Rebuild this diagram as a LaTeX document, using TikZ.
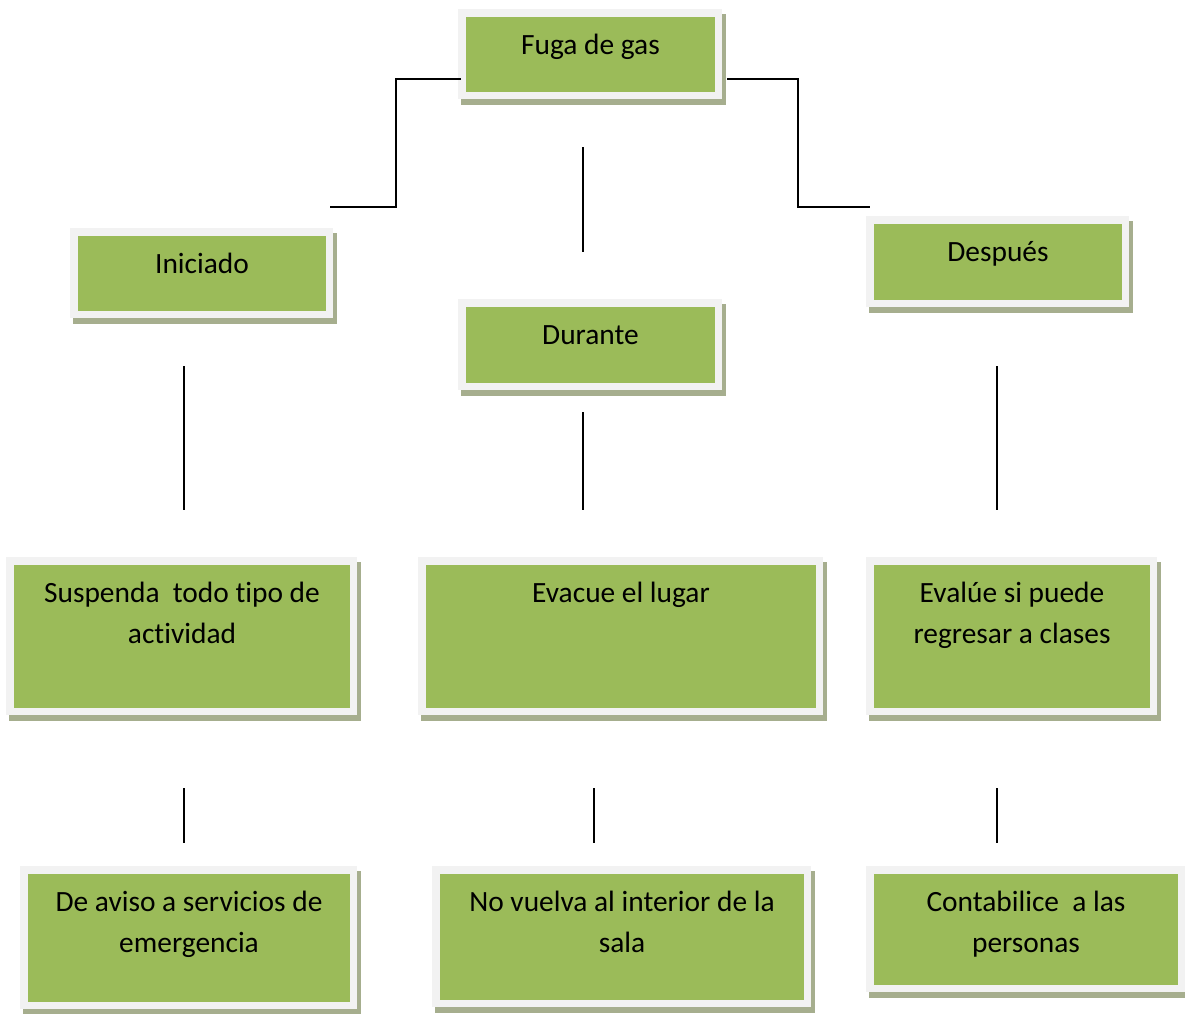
\documentclass[tikz,border=0pt]{standalone}
\usepackage{fontspec}
\setmainfont{Carlito}[Ligatures=NoCommon]
\definecolor{gfill}{HTML}{9BBB59}
\definecolor{framec}{HTML}{F2F2F2}
\definecolor{shadowc}{HTML}{A6AE8E}
\tikzset{
  gnode/.style={rectangle, fill=gfill, inner sep=0pt, outer sep=0pt},
  txt/.style={anchor=north, inner sep=0pt, align=center,
    font=\fontsize{29.4}{41}\selectfont},
  link/.style={draw=black, line width=1.6pt}
}
\newcommand\gb[6]{%
  \fill[shadowc] (#2-5,#3-3) rectangle (#2+#4+11,#3+#5+13);
  \fill[framec] (#2-8,#3-8) rectangle (#2+#4+7,#3+#5+7);
  \node[gnode, minimum width=#4, minimum height=#5, anchor=north west] (#1) at (#2,#3) {};
  \node[txt] (#1t) at ([yshift=-8.5pt]#1.north) {\strut #6};
}
\begin{document}
\begin{tikzpicture}[x=1pt,y=-1pt]
\useasboundingbox[fill=white] (0,0) rectangle (1185,1013);
\gb{fuga}{466}{17}{249}{75}{Fuga de gas}
\gb{ini}{78}{236}{248}{75}{Iniciado}
\gb{dur}{466}{307}{249}{76}{Durante}
\gb{des}{874}{224}{248}{76}{Después}
\gb{sus}{14}{565}{336}{143}{Suspenda\ \ todo tipo de\\actividad}
\gb{eva}{426}{565}{390}{143}{Evacue el lugar}
\gb{evl}{874}{565}{276}{143}{Evalúe si puede\\regresar a clases}
\gb{avi}{28}{874}{322}{128}{De aviso a servicios de\\emergencia}
\gb{nov}{440}{874}{364}{126}{No vuelva al interior de la\\sala}
\gb{con}{874}{874}{304}{111}{Contabilice\ \ a las\\personas}
% connectors
\coordinate (la) at (461,79); \coordinate (lb) at (396,79);
\coordinate (lc) at (396,207); \coordinate (ld) at (330,207);
\draw[link] (la) -- (lb) -- (lc) -- (ld);
\coordinate (ra) at (727,79); \coordinate (rb) at (798,79);
\coordinate (rc) at (798,207); \coordinate (rd) at (870,207);
\draw[link] (ra) -- (rb) -- (rc) -- (rd);
\coordinate (ca) at (583,147); \coordinate (cb) at (583,252);
\draw[link] (ca) -- (cb);
\coordinate (v1a) at (184,366); \coordinate (v1b) at (184,510);
\draw[link] (v1a) -- (v1b);
\coordinate (v2a) at (583,412); \coordinate (v2b) at (583,510);
\draw[link] (v2a) -- (v2b);
\coordinate (v3a) at (997,366); \coordinate (v3b) at (997,510);
\draw[link] (v3a) -- (v3b);
\coordinate (w1a) at (184,788); \coordinate (w1b) at (184,843);
\draw[link] (w1a) -- (w1b);
\coordinate (w2a) at (594,788); \coordinate (w2b) at (594,843);
\draw[link] (w2a) -- (w2b);
\coordinate (w3a) at (997,788); \coordinate (w3b) at (997,843);
\draw[link] (w3a) -- (w3b);
\end{tikzpicture}
\end{document}
